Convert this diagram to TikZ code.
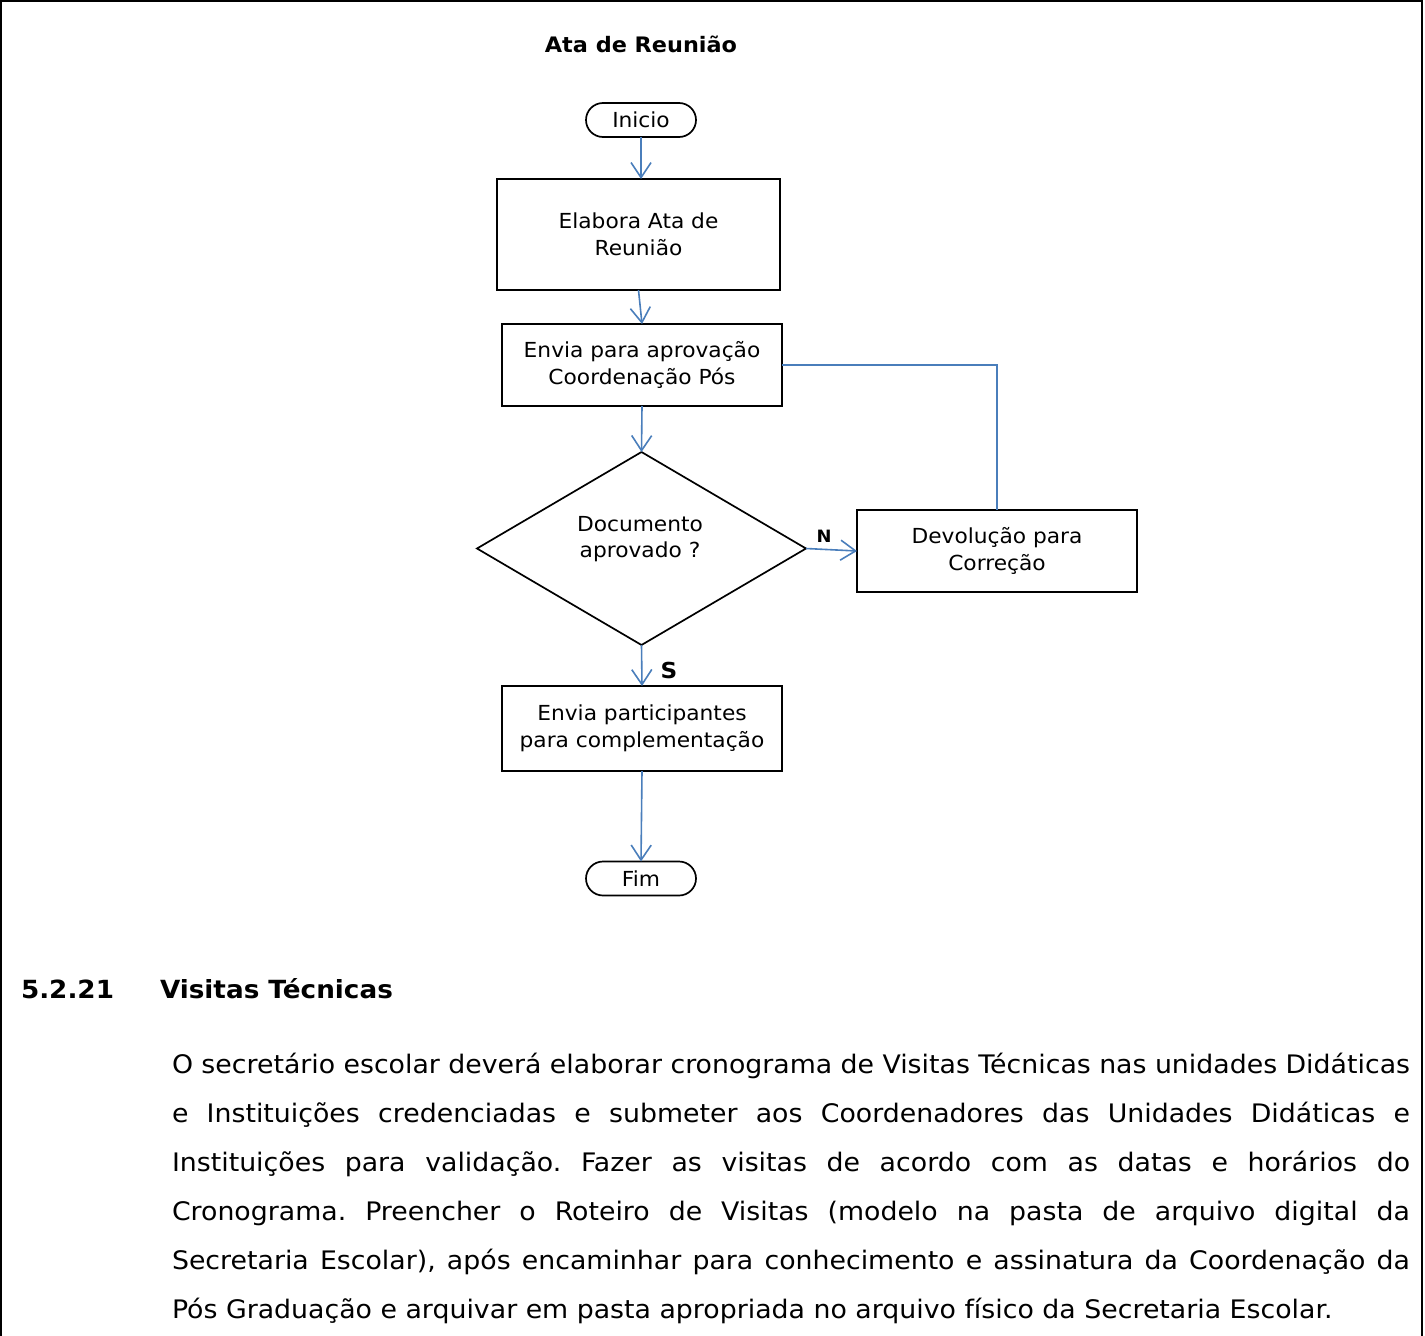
\documentclass[tikz,border=0pt]{standalone}
\usepackage{fontspec}
\setmainfont[FakeStretch=1.05]{DejaVu Sans}
\usetikzlibrary{arrows.meta,shapes.geometric}
\definecolor{flowblue}{RGB}{74,126,187}
\frenchspacing

\begin{document}
\begin{tikzpicture}[x=1pt,y=-1pt,
  every node/.style={inner sep=0pt,outer sep=0pt},
  boxtext/.style={font=\fontsize{20.7}{26.5}\selectfont,align=center},
  procbox/.style={draw=black,line width=1.7pt,boxtext},
  termbox/.style={draw=black,line width=1.7pt,rounded corners=17pt,
    minimum width=110pt,minimum height=34pt,boxtext},
  decision/.style={draw=black,line width=1.7pt,diamond,
    minimum width=329pt,minimum height=193pt},
  flow/.style={draw=flowblue,line width=1.6pt,
    -{Straight Barb[length=15pt,width=20pt,line width=1.6pt]}},
  link/.style={draw=flowblue,line width=1.6pt},
  para/.style={anchor=base west,font=\fontsize{25.5}{49}\selectfont},
  headtext/.style={font=\bfseries\fontsize{25}{30}\selectfont}]

\useasboundingbox (0,0) rectangle (1425,1336);

% page frame (open at the bottom)
\draw[line width=2pt] (1,1336) -- (1,1) -- (1422,1) -- (1422,1336);

% title
\node[font=\bfseries\fontsize{21.3}{26}\selectfont] (title) at (641,44) {Ata de Reunião};

% flowchart nodes
\node[termbox] (inicio) at (641,120) {Inicio};
\node[procbox,minimum width=283pt,minimum height=111pt] (elab) at (638.5,234.5)
  {Elabora Ata de\\Reunião};
\node[procbox,minimum width=280pt,minimum height=82pt] (envia) at (642,365)
  {Envia para aprovação\\Coordenação Pós};
\node[decision] (dec) at (641.5,548.5) {};
\node[boxtext] (dectext) at (640,539) {Documento\\aprovado ?};
\node[procbox,minimum width=280pt,minimum height=82pt] (devol) at (997,551)
  {Devolução para\\Correção};
\node[procbox,minimum width=280pt,minimum height=85pt] (part) at (642,728.5)
  {Envia participantes\\para complementação};
\node[termbox] (fim) at (641,878.5) {Fim};

% connectors
\draw[flow] (inicio.south) -- (inicio.south |- elab.north);
\draw[flow] (elab.south) -- (envia.north);
\draw[flow] (envia.south) -- (dec.north);
\draw[link] (envia.east) -| (devol.north);
\draw[flow] (dec.east) -- (devol.west);
\draw[flow] (dec.south) -- (part.north);
\draw[flow] (part.south) -- (fim.north);

% branch labels
\node[font=\bfseries\fontsize{17}{20}\selectfont] (lblN) at (824,536) {N};
\node[font=\bfseries\fontsize{22}{26}\selectfont] (lblS) at (669,670) {S};

% section heading
\node[headtext,anchor=base west] (secnum) at (21,998) {5.2.21};
\node[headtext,anchor=base west] (sectitle) at (160,998) {Visitas Técnicas};

% body paragraph, one justified line per node
\node[para] (p1) at (172,1073) {\makebox[1238pt][s]{O secretário escolar deverá elaborar cronograma de Visitas Técnicas nas unidades Didáticas}};
\node[para] (p2) at (172,1122) {\makebox[1238pt][s]{e Instituições credenciadas e submeter aos Coordenadores das Unidades Didáticas e}};
\node[para] (p3) at (172,1171) {\makebox[1238pt][s]{Instituições para validação. Fazer as visitas de acordo com as datas e horários do}};
\node[para] (p4) at (172,1220) {\makebox[1238pt][s]{Cronograma. Preencher o Roteiro de Visitas (modelo na pasta de arquivo digital da}};
\node[para] (p5) at (172,1269) {\makebox[1238pt][s]{Secretaria Escolar), após encaminhar para conhecimento e assinatura da Coordenação da}};
\node[para] (p6) at (172,1318) {Pós Graduação e arquivar em pasta apropriada no arquivo físico da Secretaria Escolar.};

\end{tikzpicture}
\end{document}
